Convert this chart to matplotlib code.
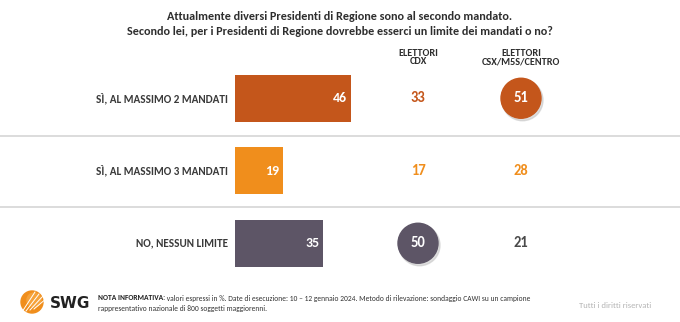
import matplotlib.pyplot as plt
from matplotlib.patches import Circle
from matplotlib import font_manager as fm

# dati
risposte = ['SÌ, AL MASSIMO 2 MANDATI', 'SÌ, AL MASSIMO 3 MANDATI', 'NO, NESSUN LIMITE']
totale = [46, 19, 35]
elettori_cdx = [33, 17, 50]
elettori_csx = [51, 28, 21]
colori = ['#C4561B', '#F08E1C', '#5D5566']
# quale valore va nel cerchio (il piu alto per colonna)
cerchio_cdx = [False, False, True]
cerchio_csx = [True, False, False]

titolo = ('Attualmente diversi Presidenti di Regione sono al secondo mandato.\n'
          'Secondo lei, per i Presidenti di Regione dovrebbe esserci un limite dei mandati o no?')
nota_bold = 'NOTA INFORMATIVA:'
nota = (' valori espressi in %. Date di esecuzione: 10 – 12 gennaio 2024. Metodo di rilevazione: '
        'sondaggio CAWI su un campione')
nota2 = 'rappresentativo nazionale di 800 soggetti maggiorenni.'

installati = set(f.name for f in fm.fontManager.ttflist)
if 'Carlito' in installati:
    FONT, STRETCH = ['Carlito', 'DejaVu Sans'], 'normal'
else:
    FONT, STRETCH = ['DejaVu Sans'], 'condensed'
plt.rcParams['font.family'] = FONT
plt.rcParams['font.stretch'] = STRETCH

W, H = 680, 322

fig = plt.figure(figsize=(6.8, 3.22), dpi=100)
fig.patch.set_facecolor('white')

# asse di sfondo in pixel
bg = fig.add_axes([0, 0, 1, 1])
bg.set_xlim(0, W)
bg.set_ylim(H, 0)
bg.axis('off')

# asse delle barre: x in percento (2.52 px per punto), parte a x=235px
x0, scala = 235, 2.52
y_top, passo = 62, 72.5
ax = fig.add_axes([x0 / W, 1 - (y_top + 3 * passo) / H, 100 * scala / W, 3 * passo / H])
ax.set_xlim(0, 100)
ax.set_ylim(2.5, -0.5)
ax.axis('off')

righe = range(len(risposte))
ax.barh(list(righe), totale, height=0.65, color=colori)
for i in righe:
    ax.text(totale[i] - 1.6, i, str(totale[i]), ha='right', va='center', color='white',
            fontsize=10, fontweight='bold')

# separatori
for ysep in [y_top + passo + 1.5, y_top + 2 * passo]:
    bg.axhline(ysep, color='#DCDCDC', lw=1.4, zorder=0)

# etichette e colonne
for i in righe:
    yc = y_top + passo * (i + 0.5)
    bg.text(228, yc, risposte[i], ha='right', va='center', fontsize=8, fontweight='bold',
            color='#3A3A3A')
    for xc, val, cerchio in [(418, elettori_cdx[i], cerchio_cdx[i]), (521, elettori_csx[i], cerchio_csx[i])]:
        if cerchio:
            bg.add_patch(Circle((xc + 1.5, yc + 2), 20.5, color='#C8C8C8', alpha=0.6, zorder=2))
            bg.add_patch(Circle((xc, yc), 20, color=colori[i], zorder=3))
            bg.text(xc, yc, str(val), ha='center', va='center', color='white', fontsize=10.5,
                    fontweight='bold', zorder=4)
        else:
            col = colori[i] if i < 2 else '#4A4A4A'
            bg.text(xc, yc, str(val), ha='center', va='center', color=col, fontsize=10.5,
                    fontweight='bold')

# titolo e intestazioni
bg.text(340, 24, titolo, ha='center', va='center', fontsize=8.7, fontweight='bold',
        color='#2E2E2E', linespacing=1.4)
bg.text(418, 57.5, 'ELETTORI\nCDX', ha='center', va='center', fontsize=7.3, fontweight='bold',
        color='#2E2E2E', linespacing=0.95)
bg.text(521, 57.5, 'ELETTORI\nCSX/M5S/CENTRO', ha='center', va='center', fontsize=7.3,
        fontweight='bold', color='#2E2E2E', linespacing=0.95)

# logo SWG
bg.add_patch(Circle((32, 302), 11, color='#F08E1C', zorder=2))
bg.add_patch(Circle((34, 300), 7, color='#F6A23A', zorder=2))
for k in range(4):
    bg.plot([22 + k * 4, 35 + k * 4], [312 - k * 1, 292 + k * 2], color='white', lw=0.7, zorder=3)
bg.text(50, 303, 'SWG', ha='left', va='center', fontsize=11, fontweight='bold',
        color='#222222', family=['DejaVu Sans'], fontstretch='normal')

# nota
t = bg.text(98, 298, nota_bold, ha='left', va='center', fontsize=5.4, fontweight='bold',
            color='#222222')
fig.canvas.draw()
bb = t.get_window_extent()
x_end = bb.x1 * W / fig.bbox.width
bg.text(x_end, 298, nota, ha='left', va='center', fontsize=5.4, color='#333333')
bg.text(98, 309, nota2, ha='left', va='center', fontsize=5.4, color='#333333')
bg.text(615, 305, 'Tutti i diritti riservati', ha='center', va='center', fontsize=6.2,
        color='#B5B5B5')

fig.savefig('out.png', dpi=100)
